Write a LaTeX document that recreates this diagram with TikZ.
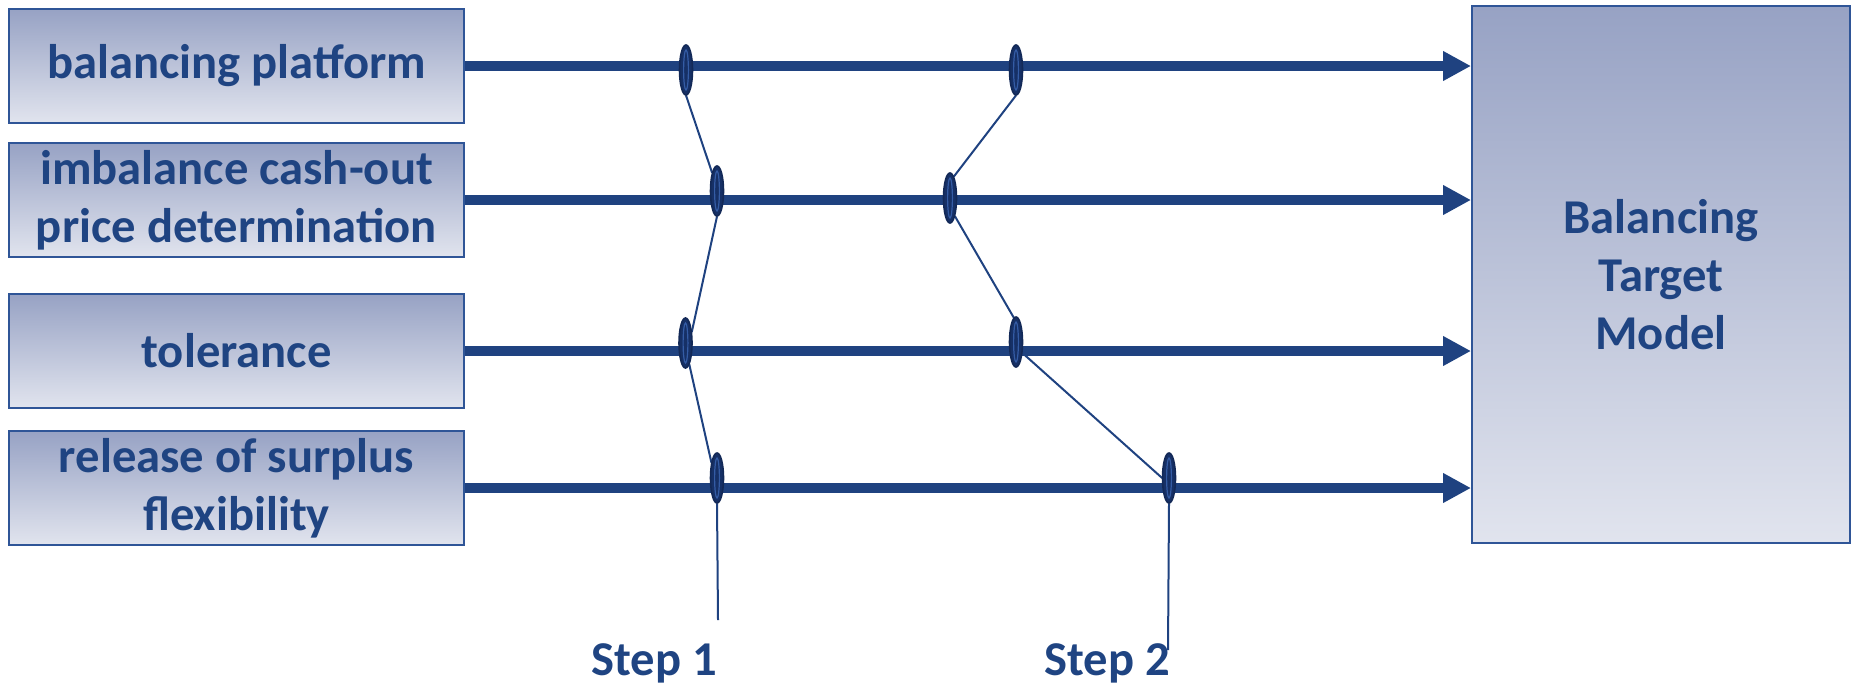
\documentclass[tikz,border=0pt]{standalone}
\usepackage{fontspec}
\setmainfont{Carlito}
\usetikzlibrary{shapes.geometric,arrows.meta}
\definecolor{txtblue}{RGB}{31,68,130}
\definecolor{lineblue}{RGB}{31,66,128}
\definecolor{boxborder}{RGB}{47,85,151}
\definecolor{boxtop}{RGB}{151,162,196}
\definecolor{boxbot}{RGB}{225,228,238}
\definecolor{elldark}{RGB}{22,48,102}
\definecolor{ellhi}{RGB}{52,92,165}
\begin{document}
\begin{tikzpicture}[x=0.5pt,y=-0.5pt,
  inbox/.style={draw=boxborder,line width=1pt,top color=boxtop,bottom color=boxbot,
    minimum width=227.5pt,minimum height=57pt,inner sep=0pt,align=center,text=txtblue,
    font=\fontsize{24.3}{29}\selectfont\bfseries},
  bigbox/.style={inbox,minimum width=189pt,minimum height=268.5pt},
  thickarrow/.style={draw=lineblue,line width=5pt,-{Triangle[length=14pt,width=14pt]}},
  knot/.style={ellipse,fill=elldark,draw=elldark!85!black,line width=0.8pt,
    minimum width=6.5pt,minimum height=25pt,inner sep=0pt,
    path picture={\draw[ellhi,line width=0.6pt] (path picture bounding box.center) ellipse (1.2pt and 10pt);}},
  knotspot/.style={ellipse,minimum width=6.5pt,minimum height=25pt,inner sep=0pt},
  link/.style={draw=lineblue,line width=1pt},
  steplabel/.style={text=txtblue,font=\fontsize{24.3}{29}\selectfont\bfseries,inner sep=0pt,anchor=base}
]
\useasboundingbox (0,0) rectangle (1856,685);

% input boxes
\node[inbox] (b1) at (236.5,66) {balancing platform};
\node[inbox] (b2) at (236.5,200) {imbalance cash-out\\price determination};
\node[inbox] (b3) at (236.5,351) {tolerance};
\node[inbox] (b4) at (236.5,488) {release of surplus\\flexibility};

% target box
\node[bigbox] (T) at (1661,274.5) {Balancing\\Target\\Model};

% arrows
\draw[thickarrow] (b1.east) -- (b1.east -| T.west);
\draw[thickarrow] (b2.east) -- (b2.east -| T.west);
\draw[thickarrow] (b3.east) -- (b3.east -| T.west);
\draw[thickarrow] (b4.east) -- (b4.east -| T.west);

% step end points and labels
\coordinate (s1end) at (718,620);
\coordinate (s2end) at (1168,650);
\node[steplabel] (st1) at (654,675) {Step 1};
\node[steplabel] (st2) at (1107,675) {Step 2};

% knot positions
\path (686,70) coordinate (p11) (1016,70) coordinate (p12)
      (717,191) coordinate (p21) (950,198) coordinate (p22)
      (685.5,343) coordinate (p31) (1016,342) coordinate (p32)
      (717,478) coordinate (p41) (1169,478) coordinate (p42);
\foreach \n in {11,12,21,22,31,32,41,42}{
  \node[knotspot] (e\n) at (p\n) {};
}

% connectors
\draw[link] (e11.south) -- (e21.105);
\draw[link] (e21.south) -- (e31.60);
\draw[link] (e31.-80) -- (e41.110);
\draw[link] (e41.south) -- (s1end);

\draw[link] (e12.south) -- (e22.80);
\draw[link] (e22.-75) -- (e32.95);
\draw[link] (e32.-60) -- (e42.west);
\draw[link] (e42.south) -- (s2end);

% knots drawn on top
\foreach \n in {11,12,21,22,31,32,41,42}{
  \node[knot] at (p\n) {};
}
\end{tikzpicture}
\end{document}
